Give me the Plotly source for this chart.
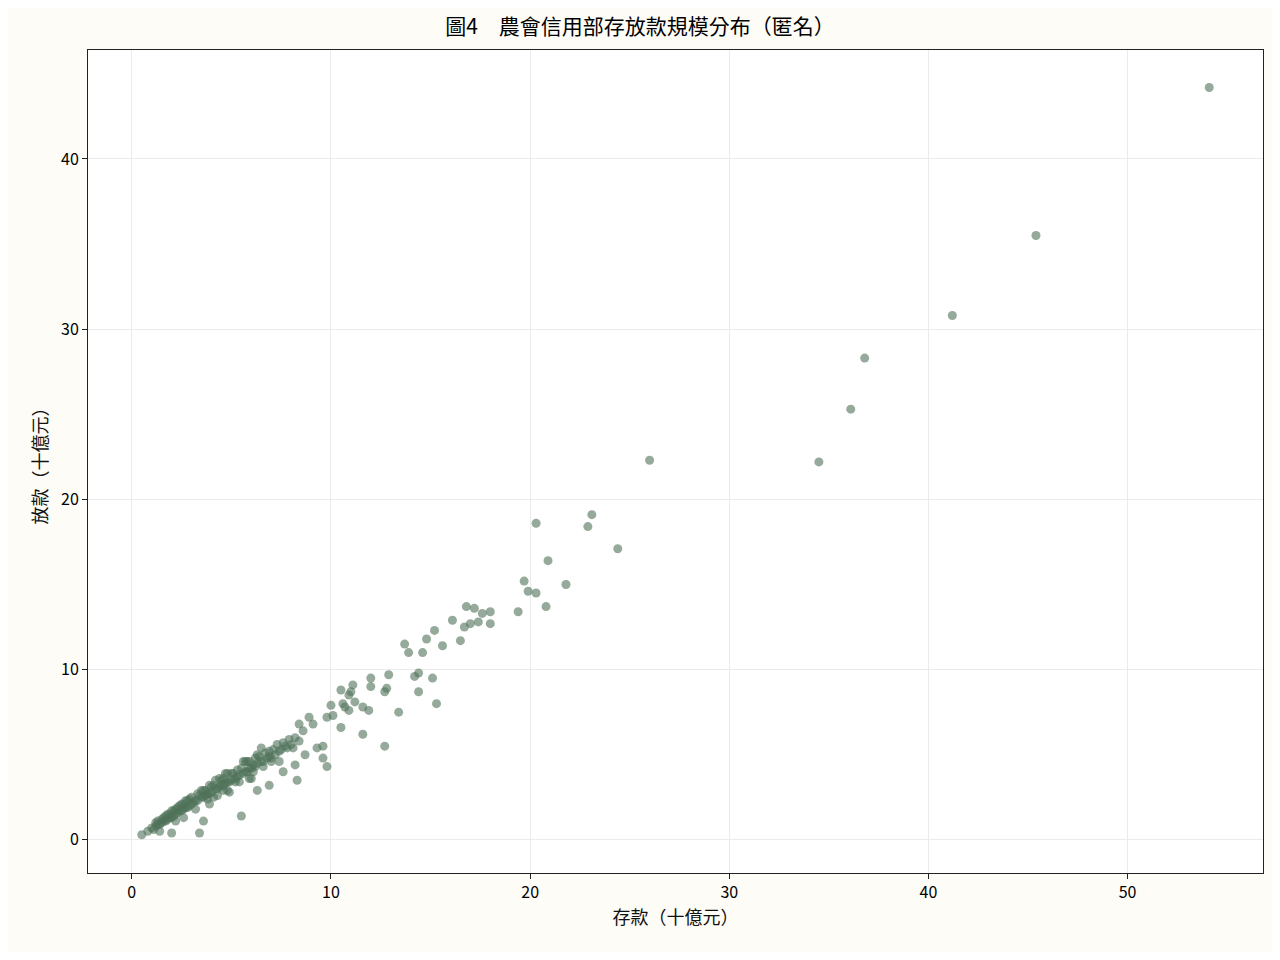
import plotly.graph_objects as go

deposits = [54.1,45.4,41.2,36.8,36.1,34.5,26.0,23.1,22.9,20.3,24.4,20.9,19.7,19.9,20.3,21.8,20.8,19.4,16.8,17.2,17.6,18.0,17.4,17.0,18.0,16.7,16.1,16.5,15.2,14.8,15.6,13.7,13.9,14.6,14.4,14.2,15.1,14.4,15.3,13.4,12.7,12.9,12.8,12.7,12.0,12.0,11.1,11.0,10.5,10.9,11.2,10.6,10.7,10.9,11.6,11.9,10.0,10.1,9.8,10.5,11.6,9.6,9.3,9.6,9.8,8.9,9.1,8.4,8.6,8.2,8.4,8.1,8.7,8.2,8.3,7.6,6.9,6.3,5.5,3.4,3.6,2.0,
 8.0,7.8,7.5,7.7,7.2,7.0,7.4,6.8,6.6,6.9,6.5,6.2,6.0,6.3,6.1,5.8,5.9,5.6,5.4,5.7,5.2,5.0,5.3,4.9,4.7,4.8,4.5,4.3,4.6,4.2,4.0,4.4,3.9,3.7,3.8,3.5,3.3,3.6,3.1,3.0,3.2,2.8,2.9,2.6,2.7,2.5,2.3,2.4,2.2,2.1,2.0,1.9,1.8,1.7,1.6,1.5,1.4,1.3,1.2,1.0,0.8,0.5,
 7.9,7.3,6.7,6.4,5.9,5.5,5.1,4.6,4.1,3.7,3.4,2.9,2.6,2.2,1.8,1.5,1.2,7.1,6.3,5.7,5.3,4.8,4.4,3.9,3.3,2.7,2.3,1.9,1.6,1.3,7.6,6.9,6.2,5.8,5.0,4.5,4.0,3.6,3.0,2.5,2.0,1.7,6.5,5.6,4.7,4.2,3.5,2.8,2.4,2.1,
 7.4,6.6,6.0,5.4,4.9,4.3,3.8,3.2,2.6,5.2,4.6,4.1,7.0,6.1,5.9,4.8,3.9,1.4,1.1,2.2]
loans = [44.2,35.5,30.8,28.3,25.3,22.2,22.3,19.1,18.4,18.6,17.1,16.4,15.2,14.6,14.5,15.0,13.7,13.4,13.7,13.6,13.3,13.4,12.8,12.7,12.7,12.5,12.9,11.7,12.3,11.8,11.4,11.5,11.0,11.0,9.8,9.6,9.5,8.7,8.0,7.5,5.5,9.7,8.9,8.7,9.5,9.0,9.1,8.7,8.8,8.5,8.1,8.0,7.8,7.6,7.8,7.6,7.9,7.3,7.2,6.6,6.2,5.5,5.4,4.8,4.3,7.2,6.8,6.8,6.4,6.0,5.8,5.4,5.0,4.4,3.5,4.0,3.2,2.9,1.4,0.4,1.1,0.4,
 5.6,5.4,5.3,5.5,5.0,4.8,5.2,4.8,4.6,4.9,4.6,4.3,4.2,4.5,4.4,4.0,4.2,3.9,3.8,4.0,3.6,3.5,3.7,3.4,3.3,3.4,3.2,3.0,3.2,3.0,2.8,3.1,2.7,2.6,2.7,2.5,2.3,2.5,2.2,2.1,2.3,1.9,2.0,1.8,1.9,1.7,1.6,1.7,1.5,1.4,1.3,1.3,1.2,1.1,1.1,1.0,0.9,0.9,0.8,0.7,0.5,0.3,
 5.9,5.6,5.1,4.9,4.6,4.2,3.9,3.6,3.2,2.9,2.6,2.4,2.1,1.8,1.5,1.2,1.0,5.3,5.0,4.6,4.1,3.9,3.6,3.2,2.7,2.3,1.9,1.5,1.3,1.1,5.7,5.2,4.8,4.6,3.9,3.5,3.1,2.9,2.5,2.1,1.7,1.4,5.4,4.6,3.9,3.5,2.9,2.3,2.0,1.7,
 4.6,4.3,3.6,3.4,2.8,2.6,2.4,1.8,1.3,3.4,2.9,2.5,4.6,4.0,3.6,2.9,2.1,0.5,0.6,1.1]

fig = go.Figure(go.Scatter(x=deposits, y=loans, mode="markers",
    marker=dict(size=9, color="#4f7259", opacity=0.6, line=dict(width=0))))
font = "Noto Sans CJK TC"
fig.update_layout(
    width=1264, height=944, paper_bgcolor="#fdfcf7", plot_bgcolor="white",
    margin=dict(l=80, r=9, t=42, b=79),
    font=dict(family=font, size=16, color="#111"),
    title=dict(text="圖4　農會信用部存放款規模分布（匿名）", x=0.5, xanchor="center",
               y=0.98, yanchor="middle", font=dict(size=21, color="#000")),
    showlegend=False,
)
ax = dict(showline=True, linecolor="#222", mirror=True, gridcolor="#ebebeb", zeroline=False,
          ticks="outside", ticklen=5, tickcolor="#222", tickfont=dict(size=16, color="#000"))
fig.update_xaxes(ax, range=[-2.2, 56.8], tickvals=[0,10,20,30,40,50], title=dict(text="存款（十億元）", font=dict(size=18), standoff=8))
fig.update_yaxes(ax, range=[-1.95, 46.4], tickvals=[0,10,20,30,40], title=dict(text="放款（十億元）", font=dict(size=18), standoff=8))
fig.write_html("out.html")
